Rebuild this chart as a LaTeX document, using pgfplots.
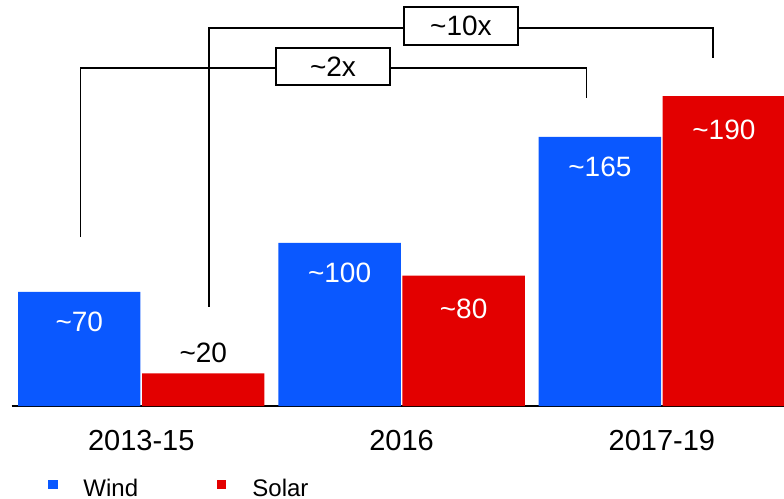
\documentclass[border=0pt]{standalone}
\usepackage{pgfplots}
\pgfplotsset{compat=1.18}
\usepackage{fontspec}
\setmainfont{Liberation Sans}
\definecolor{windblue}{RGB}{10,88,255}
\definecolor{solarred}{RGB}{227,0,0}
\newcommand{\tl}{\textasciitilde}
\begin{document}
\begin{tikzpicture}
\path[use as bounding box] (0,0) rectangle (392pt,249.5pt);
\begin{axis}[
  at={(5.85pt,46.5pt)}, anchor=south west,
  scale only axis, width=386.15pt, height=203pt,
  xmin=-0.4979, xmax=2.4691, ymin=0, ymax=248.93,
  axis x line*=bottom, axis y line=none,
  x axis line style={line width=1pt, black, -},
  xtick={0,1,2}, xticklabels={2013-15,2016,2017-19},
  major tick length=0pt,
  xticklabel style={anchor=center, yshift=-17.5pt, font=\fontsize{14.5}{17}\selectfont},
  ytick=\empty,
  clip=false,
  bar width=0.4702,
]
\addplot[ybar, bar shift=-0.2382, fill=windblue, draw=none] coordinates {(0,70) (1,100) (2,165)};
\addplot[ybar, bar shift=0.2382, fill=solarred, draw=none] coordinates {(0,20) (1,80) (2,190)};

% value labels
\begin{scope}[every node/.style={font=\fontsize{14}{16}\selectfont, anchor=center}]
\node[white, yshift=-14.8pt] at (axis cs:-0.2382,70) {\tl70};
\node[black, yshift=10.5pt] at (axis cs:0.2382,20) {\tl20};
\node[white, yshift=-15.2pt] at (axis cs:0.7618,100) {\tl100};
\node[white, yshift=-16.5pt] at (axis cs:1.2382,80) {\tl80};
\node[white, yshift=-15pt] at (axis cs:1.7618,165) {\tl165};
\node[white, yshift=-16.8pt] at (axis cs:2.2382,190) {\tl190};
\end{scope}

% brackets
\draw[line width=0.7pt] (axis cs:-0.2328,103.6) |- (axis cs:1.7111,207.2) -- (axis cs:1.7111,188.8);
\draw[line width=0.7pt] (axis cs:0.2601,60.7) |- (axis cs:2.1963,231.8) -- (axis cs:2.1963,213.4);
\node[draw, line width=0.6pt, fill=white, minimum width=57pt, minimum height=18.5pt, inner sep=0pt, font=\fontsize{14}{16}\selectfont] at (axis cs:0.7365,208.2) {\tl2x};
\node[draw, line width=0.6pt, fill=white, minimum width=57pt, minimum height=19pt, inner sep=0pt, font=\fontsize{14}{16}\selectfont] at (axis cs:1.2281,233.0) {\tl10x};

% legend
\fill[windblue] (axis cs:-0.3584,-45.5) rectangle (axis cs:-0.3200,-51.0);
\fill[solarred] (axis cs:0.2907,-45.5) rectangle (axis cs:0.3254,-51.0);
\node[anchor=base west, inner sep=0pt, font=\fontsize{12}{14}\selectfont] at (axis cs:-0.2238,-55.4) {Wind};
\node[anchor=base west, inner sep=0pt, font=\fontsize{12}{14}\selectfont] at (axis cs:0.4253,-55.4) {Solar};
\end{axis}
\end{tikzpicture}
\end{document}
